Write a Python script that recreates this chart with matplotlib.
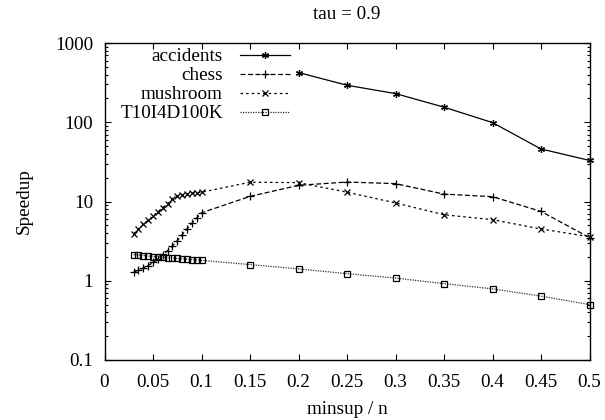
import matplotlib
matplotlib.use("Agg")
import matplotlib.pyplot as plt
from matplotlib.ticker import LogLocator, NullFormatter, FixedLocator

plt.rcParams['font.family'] = ['Liberation Serif', 'DejaVu Serif']
plt.rcParams['font.size'] = 13.8

minsup = [0.03, 0.035, 0.04, 0.045, 0.05, 0.055, 0.06, 0.065, 0.07, 0.075,
          0.08, 0.085, 0.09, 0.095, 0.1, 0.15, 0.2, 0.25, 0.3, 0.35, 0.4,
          0.45, 0.5]
accidents_x = [0.2, 0.25, 0.3, 0.35, 0.4, 0.45, 0.5]
accidents = [424, 293, 230, 155, 99, 46, 33]
chess = [1.29, 1.36, 1.45, 1.55, 1.70, 1.88, 2.1, 2.4, 2.75, 3.2,
         3.8, 4.5, 5.3, 6.2, 7.2, 11.6, 16.0, 17.6, 16.8, 12.4, 11.5,
         7.5, 3.5]
mushroom = [3.93, 4.46, 5.16, 5.79, 6.5, 7.4, 8.4, 9.4, 10.6, 11.8,
            12.2, 12.5, 12.7, 12.9, 13.1, 17.5, 17.3, 13.1, 9.6, 6.8, 5.9,
            4.5, 3.6]
t10 = [2.14, 2.11, 2.08, 2.05, 2.02, 2.0, 1.97, 1.95, 1.93, 1.91,
       1.89, 1.87, 1.85, 1.83, 1.81, 1.6, 1.41, 1.23, 1.08, 0.92, 0.79,
       0.64, 0.50]

xticks = [0, 0.05, 0.1, 0.15, 0.2, 0.25, 0.3, 0.35, 0.4, 0.45, 0.5]
xtick_labels = ["0", "0.05", "0.1", "0.15", "0.2", "0.25", "0.3", "0.35",
                "0.4", "0.45", "0.5"]
yticks = [0.1, 1, 10, 100, 1000]
ytick_labels = ["0.1", "1", "10", "100", "1000"]

fig = plt.figure(figsize=(6.05, 4.2), dpi=100)
ax = fig.add_axes([104.5 / 605, 1 - 360 / 420, 485 / 605, 317 / 420])

ms = 5
ax.plot(accidents_x, accidents, color='black', lw=0.9, ls='-',
        marker=(6, 2, 0), ms=ms, mew=0.9, label='accidents', clip_on=False)
ax.plot(minsup, chess, color='black', lw=0.9, ls=(0, (4, 2)),
        marker='+', ms=ms + 1, mew=0.9, label='chess', clip_on=False)
ax.plot(minsup, mushroom, color='black', lw=0.9, ls=(0, (2, 2.5)),
        marker='x', ms=ms, mew=0.9, label='mushroom', clip_on=False)
ax.plot(minsup, t10, color='#333333', lw=0.9, ls=(0, (1, 1)),
        marker='s', ms=ms, mew=0.9, mfc='none', mec='black',
        label='T10I4D100K', clip_on=False)

ax.set_yscale('log')
ax.set_xlim(0, 0.5)
ax.set_ylim(0.1, 1000)
ax.xaxis.set_major_locator(FixedLocator(xticks))
ax.set_xticklabels(xtick_labels)
ax.yaxis.set_major_locator(FixedLocator(yticks))
ax.set_yticklabels(ytick_labels)
ax.yaxis.set_minor_locator(LogLocator(base=10, subs=range(2, 10)))
ax.yaxis.set_minor_formatter(NullFormatter())

ax.tick_params(which='both', direction='in', top=True, right=True,
               width=0.8)
ax.tick_params(which='major', length=4.5)
ax.tick_params(axis='x', which='major', pad=10)
ax.tick_params(axis='y', which='major', pad=8)
ax.tick_params(which='minor', length=2.2)
for s in ax.spines.values():
    s.set_linewidth(1.0)

ax.set_title('tau = 0.9', fontsize=13.8, pad=17)
ax.set_xlabel('minsup / n', labelpad=7)
ax.set_ylabel('Speedup', labelpad=16)

leg = ax.legend(loc='upper right', bbox_to_anchor=(290 / 605, 1 - 48 / 420),
                bbox_transform=fig.transFigure, frameon=False,
                markerfirst=False, handlelength=2.6, handletextpad=0.9,
                labelspacing=0.08, borderpad=0, borderaxespad=0)

fig.savefig('out.png', dpi=100)
